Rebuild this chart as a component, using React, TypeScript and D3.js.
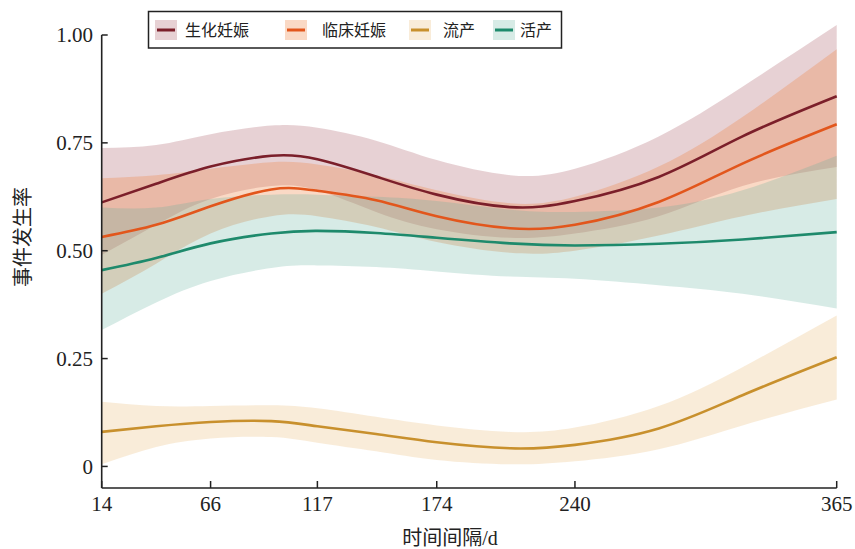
import React from "react";
import * as d3 from "d3";

const days = [14, 40, 66, 95, 117, 145, 174, 209, 240, 280, 320, 365];

const biochemMid = [0.612, 0.655, 0.695, 0.72, 0.712, 0.672, 0.63, 0.601, 0.615, 0.671, 0.765, 0.858];
const biochemLo = [0.49, 0.56, 0.62, 0.65, 0.64, 0.59, 0.55, 0.53, 0.54, 0.58, 0.65, 0.694];
const biochemHi = [0.738, 0.745, 0.77, 0.79, 0.785, 0.755, 0.71, 0.675, 0.69, 0.765, 0.88, 1.023];

const clinicalMid = [0.532, 0.56, 0.603, 0.642, 0.639, 0.617, 0.58, 0.552, 0.56, 0.613, 0.702, 0.793];
const clinicalLo = [0.4, 0.47, 0.54, 0.58, 0.58, 0.555, 0.52, 0.495, 0.5, 0.535, 0.58, 0.62];
const clinicalHi = [0.668, 0.675, 0.69, 0.705, 0.7, 0.675, 0.64, 0.61, 0.625, 0.695, 0.81, 0.967];

const abortionMid = [0.08, 0.093, 0.103, 0.105, 0.093, 0.075, 0.056, 0.042, 0.05, 0.088, 0.165, 0.253];
const abortionLo = [0.005, 0.045, 0.065, 0.068, 0.055, 0.035, 0.015, 0.005, 0.012, 0.04, 0.095, 0.155];
const abortionHi = [0.15, 0.14, 0.14, 0.142, 0.135, 0.115, 0.095, 0.08, 0.09, 0.14, 0.23, 0.35];

const liveMid = [0.455, 0.483, 0.517, 0.54, 0.546, 0.541, 0.53, 0.517, 0.512, 0.516, 0.526, 0.543];
const liveLo = [0.316, 0.38, 0.43, 0.46, 0.466, 0.462, 0.452, 0.44, 0.435, 0.42, 0.4, 0.366];
const liveHi = [0.6, 0.6, 0.62, 0.63, 0.63, 0.625, 0.615, 0.595, 0.59, 0.6, 0.64, 0.72];

const seriesNames = ["生化妊娠", "临床妊娠", "流产", "活产"];
const xTicks = [14, 66, 117, 174, 240, 365];
const yTicks = [0, 0.25, 0.5, 0.75, 1];
const yTickLabels = ["0", "0.25", "0.50", "0.75", "1.00"];

const W = 855;
const H = 549;
const left = 101.7;
const right = 836.7;
const top = 35;
const bottom = 488;

const lineColors = ["#7b1f2a", "#e2561c", "#c8902d", "#1e8a6c"];
const bandColors = ["#b06670", "#f08040", "#e6b467", "#5fb09c"];
const bandOpacity = [0.3, 0.3, 0.25, 0.25];

const serifFont = "'Liberation Serif', 'Times New Roman', serif";
const cjkFont = "'Liberation Serif', 'Noto Sans CJK SC', serif";

export default function App() {
  const x = d3.scaleLinear().domain([14, 365]).range([left, right]);
  const y = d3.scaleLinear().domain([-0.05, 1]).range([bottom, top]);

  const series = [
    { mid: biochemMid, lo: biochemLo, hi: biochemHi },
    { mid: clinicalMid, lo: clinicalLo, hi: clinicalHi },
    { mid: abortionMid, lo: abortionLo, hi: abortionHi },
    { mid: liveMid, lo: liveLo, hi: liveHi },
  ];

  const curve = d3.curveNatural;
  const line = d3
    .line<number>()
    .x((_, i) => x(days[i]))
    .y((v) => y(v))
    .curve(curve);
  const area = (lo: number[], hi: number[]) =>
    d3
      .area<number>()
      .x((_, i) => x(days[i]))
      .y0((_, i) => y(lo[i]))
      .y1((_, i) => y(hi[i]))
      .curve(curve)(days) as string;

  const legendSwatchX = [155, 285, 409, 493];
  const legendTextX = [185, 322, 443, 520];

  return (
    <svg
      width={W}
      height={H}
      style={{ position: "absolute", left: 0, top: 0, background: "#fff" }}
    >
      {series.map((s, i) => (
        <path
          key={"band" + i}
          d={area(s.lo, s.hi)}
          fill={bandColors[i]}
          fillOpacity={bandOpacity[i]}
          stroke="none"
        />
      ))}
      {series.map((s, i) => (
        <path
          key={"line" + i}
          d={line(s.mid) as string}
          fill="none"
          stroke={lineColors[i]}
          strokeWidth={2.6}
        />
      ))}

      {/* axes */}
      <line x1={left} x2={left} y1={top} y2={bottom} stroke="#222" strokeWidth={1.6} />
      <line x1={left} x2={right} y1={bottom} y2={bottom} stroke="#222" strokeWidth={1.6} />
      {yTicks.map((t, i) => (
        <g key={"yt" + i}>
          <line x1={left} x2={left + 6} y1={y(t)} y2={y(t)} stroke="#222" strokeWidth={1.5} />
          <text
            x={93}
            y={y(t)}
            dy="0.35em"
            textAnchor="end"
            fontFamily={serifFont}
            fontSize={21}
            fill="#222"
          >
            {yTickLabels[i]}
          </text>
        </g>
      ))}
      {xTicks.map((t, i) => (
        <g key={"xt" + i}>
          <line x1={x(t)} x2={x(t)} y1={bottom} y2={bottom - 7} stroke="#222" strokeWidth={1.5} />
          <text
            x={x(t)}
            y={511}
            textAnchor="middle"
            fontFamily={serifFont}
            fontSize={21}
            fill="#222"
          >
            {t}
          </text>
        </g>
      ))}
      <text x={450} y={545} textAnchor="middle" fontFamily={cjkFont} fontSize={20} fill="#222">
        时间间隔/d
      </text>
      <text
        transform={`translate(30, 237) rotate(-90)`}
        textAnchor="middle"
        fontFamily={cjkFont}
        fontSize={20}
        fill="#222"
      >
        事件发生率
      </text>

      {/* legend */}
      <rect x={148.5} y={11.5} width={413} height={36.5} fill="#fff" stroke="#222" strokeWidth={1.5} />
      {seriesNames.map((n, i) => (
        <g key={"lg" + i}>
          <rect
            x={legendSwatchX[i]}
            y={20}
            width={22}
            height={20}
            fill={bandColors[i]}
            fillOpacity={bandOpacity[i]}
          />
          <line
            x1={legendSwatchX[i] + 2}
            x2={legendSwatchX[i] + 20}
            y1={30}
            y2={30}
            stroke={lineColors[i]}
            strokeWidth={3}
          />
          <text x={legendTextX[i]} y={36} fontFamily={cjkFont} fontSize={16} fill="#222">
            {n}
          </text>
        </g>
      ))}
    </svg>
  );
}
